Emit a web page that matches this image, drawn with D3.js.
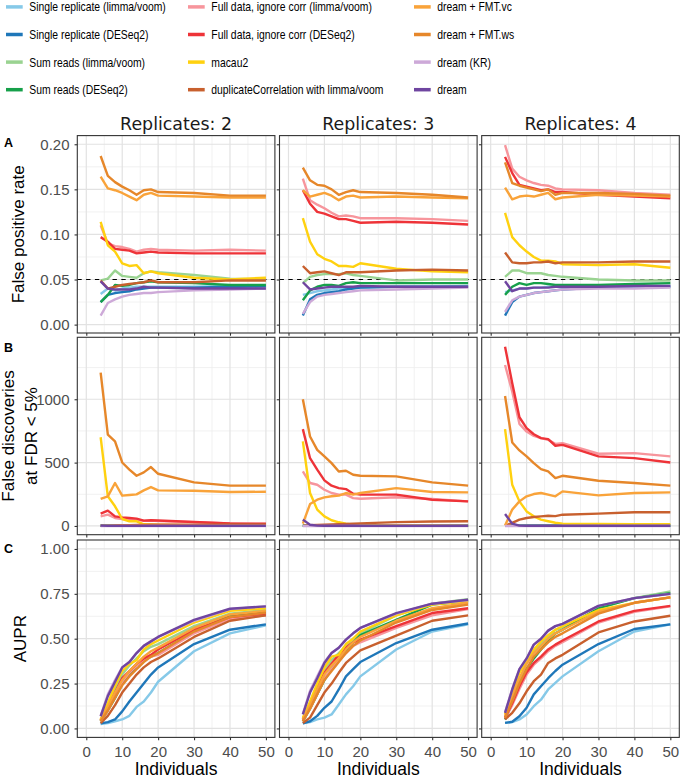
<!DOCTYPE html>
<html><head><meta charset="utf-8">
<script src="https://cdn.jsdelivr.net/npm/d3@7"></script>
<style>
html,body{margin:0;padding:0;background:#fff;}
svg{display:block;}
text{font-family:"Liberation Sans",Arial,Helvetica,sans-serif;}
</style></head>
<body><svg id="chart" width="680" height="779"></svg>
<script>
// ---------------- DATA ----------------
const individuals = [4,6,8,10,12,14,16,18,20,30,40,50];
const replicates = [2,3,4];
const methods = [
  "Single replicate (limma/voom)","Single replicate (DESeq2)",
  "Sum reads (limma/voom)","Sum reads (DESeq2)",
  "Full data, ignore corr (limma/voom)","Full data, ignore corr (DESeq2)",
  "macau2","duplicateCorrelation with limma/voom",
  "dream + FMT.vc","dream + FMT.ws","dream (KR)","dream"
];
const methodColors = ["#86C9E8","#1F77B9","#9AD391","#16A04A","#F7959C","#EE3338",
  "#FFD10F","#C8602E","#F9A33A","#E6872A","#CDA9D8","#6F45A0"];

// False positive rate, rows follow `methods`
const fpr_rep2 = [
  [0.034,0.040,0.038,0.040,0.041,0.042,0.042,0.042,0.042,0.042,0.043,0.043],
  [0.025,0.033,0.035,0.036,0.037,0.039,0.040,0.041,0.041,0.041,0.042,0.042],
  [0.049,0.051,0.060,0.054,0.053,0.052,0.057,0.059,0.058,0.055,0.051,0.050],
  [0.025,0.033,0.044,0.043,0.044,0.046,0.047,0.048,0.047,0.046,0.044,0.044],
  [0.110,0.090,0.087,0.086,0.084,0.081,0.083,0.084,0.083,0.082,0.083,0.082],
  [0.097,0.092,0.084,0.083,0.082,0.079,0.080,0.081,0.080,0.079,0.079,0.079],
  [0.114,0.088,0.081,0.068,0.065,0.066,0.057,0.059,0.057,0.052,0.050,0.052],
  [0.049,0.040,0.042,0.044,0.045,0.046,0.047,0.049,0.047,0.047,0.049,0.049],
  [0.164,0.151,0.149,0.146,0.142,0.138,0.144,0.146,0.143,0.142,0.141,0.141],
  [0.187,0.165,0.158,0.153,0.149,0.144,0.149,0.150,0.147,0.146,0.143,0.143],
  [0.010,0.024,0.028,0.031,0.033,0.034,0.035,0.035,0.036,0.038,0.039,0.040],
  [0.048,0.040,0.039,0.039,0.039,0.040,0.042,0.041,0.041,0.040,0.040,0.040]
];
const fpr_rep3 = [
  [0.033,0.035,0.037,0.038,0.039,0.040,0.040,0.041,0.041,0.042,0.042,0.043],
  [0.010,0.028,0.033,0.035,0.036,0.037,0.039,0.040,0.041,0.042,0.042,0.042],
  [0.046,0.053,0.055,0.056,0.056,0.056,0.057,0.055,0.054,0.049,0.050,0.050],
  [0.027,0.038,0.042,0.044,0.044,0.043,0.046,0.047,0.046,0.046,0.046,0.046],
  [0.162,0.138,0.133,0.129,0.124,0.120,0.121,0.120,0.118,0.118,0.117,0.115],
  [0.149,0.134,0.125,0.123,0.120,0.117,0.117,0.115,0.113,0.114,0.113,0.111],
  [0.118,0.092,0.078,0.073,0.070,0.065,0.065,0.064,0.068,0.062,0.059,0.058],
  [0.065,0.057,0.058,0.059,0.057,0.055,0.058,0.058,0.058,0.060,0.061,0.060],
  [0.149,0.142,0.144,0.146,0.143,0.138,0.142,0.143,0.141,0.142,0.141,0.140],
  [0.174,0.160,0.155,0.154,0.150,0.144,0.147,0.149,0.147,0.146,0.144,0.141],
  [0.012,0.025,0.031,0.033,0.034,0.035,0.036,0.037,0.038,0.039,0.040,0.041],
  [0.047,0.039,0.040,0.041,0.042,0.042,0.042,0.042,0.043,0.042,0.042,0.042]
];
const fpr_rep4 = [
  [0.036,0.038,0.040,0.040,0.041,0.041,0.042,0.042,0.042,0.042,0.043,0.043],
  [0.010,0.025,0.031,0.033,0.035,0.036,0.037,0.038,0.039,0.041,0.041,0.042],
  [0.053,0.060,0.060,0.057,0.057,0.057,0.055,0.054,0.053,0.050,0.049,0.049],
  [0.033,0.042,0.046,0.044,0.046,0.046,0.045,0.044,0.044,0.044,0.045,0.046],
  [0.199,0.173,0.164,0.160,0.157,0.155,0.154,0.151,0.150,0.149,0.146,0.144],
  [0.186,0.168,0.155,0.153,0.151,0.149,0.150,0.147,0.147,0.144,0.142,0.140],
  [0.124,0.097,0.088,0.081,0.075,0.071,0.071,0.070,0.067,0.066,0.067,0.063],
  [0.080,0.069,0.068,0.068,0.069,0.069,0.070,0.068,0.069,0.069,0.070,0.070],
  [0.152,0.139,0.142,0.143,0.142,0.144,0.146,0.139,0.141,0.144,0.143,0.142],
  [0.180,0.157,0.154,0.152,0.150,0.148,0.150,0.144,0.146,0.146,0.145,0.143],
  [0.014,0.027,0.031,0.033,0.035,0.036,0.037,0.038,0.039,0.040,0.040,0.041],
  [0.048,0.037,0.040,0.040,0.041,0.041,0.041,0.042,0.042,0.042,0.043,0.043]
];

// False discoveries at FDR < 5%
const fd_rep2 = [
  [1,1,1,1,1,1,1,1,1,1,1,1],
  [2,2,2,2,2,2,2,2,2,2,2,2],
  [1,1,1,1,1,1,1,1,1,1,1,1],
  [2,2,2,2,2,2,2,2,2,2,2,2],
  [76,89,63,55,50,46,40,42,38,30,20,15],
  [97,121,76,68,63,58,42,45,43,31,20,18],
  [700,234,155,55,37,37,13,12,10,5,4,4],
  [2,3,4,5,6,7,8,9,9,10,12,12],
  [213,234,339,239,244,249,281,307,281,278,268,270],
  [1210,720,667,501,444,396,423,465,412,344,318,318],
  [0,0,0,0,0,0,0,0,0,0,0,0],
  [3,1,1,1,1,1,1,1,1,1,1,1]
];
const fd_rep3 = [
  [1,1,1,1,1,1,1,1,1,1,1,1],
  [2,2,2,2,2,2,2,2,2,2,2,2],
  [1,1,1,1,1,1,1,1,1,1,1,1],
  [2,2,2,2,2,2,2,2,2,2,2,2],
  [430,339,325,286,260,247,247,220,215,226,213,194],
  [764,535,444,360,318,299,291,255,247,247,207,194],
  [667,260,129,76,45,29,18,10,8,5,4,3],
  [3,5,7,9,11,13,15,17,20,30,35,37],
  [18,173,207,226,234,239,260,247,260,299,268,265],
  [1000,706,601,549,496,430,436,404,396,391,344,318],
  [0,0,0,0,0,0,0,0,0,0,0,0],
  [50,10,3,2,2,2,2,2,2,2,2,2]
];
const fd_rep4 = [
  [1,1,1,1,1,1,1,1,1,1,1,1],
  [2,2,2,2,2,2,2,2,2,2,2,2],
  [1,1,1,1,1,1,1,1,1,1,1,1],
  [2,2,2,2,2,2,2,2,2,2,2,2],
  [1270,1060,806,745,711,693,680,648,654,570,575,549],
  [1415,1126,858,772,724,693,685,633,640,549,535,501],
  [764,325,194,115,76,50,37,25,18,15,14,13],
  [3,24,50,63,71,76,81,78,89,97,108,108],
  [3,129,194,234,252,260,247,234,273,241,260,265],
  [1026,659,596,549,496,449,430,378,396,357,339,318],
  [0,0,0,0,0,0,0,0,0,0,0,0],
  [94,18,3,2,2,2,2,2,2,2,2,2]
];

// AUPR
const aupr_rep2 = [
  [0.025,0.030,0.040,0.050,0.070,0.120,0.150,0.200,0.260,0.430,0.530,0.575],
  [0.028,0.035,0.050,0.095,0.150,0.200,0.250,0.300,0.340,0.470,0.550,0.580],
  [0.045,0.130,0.220,0.300,0.350,0.390,0.430,0.455,0.470,0.570,0.640,0.660],
  [0.040,0.100,0.170,0.250,0.300,0.350,0.380,0.400,0.420,0.540,0.630,0.650],
  [0.040,0.100,0.180,0.260,0.310,0.350,0.380,0.400,0.410,0.530,0.610,0.630],
  [0.045,0.120,0.200,0.280,0.320,0.360,0.390,0.410,0.440,0.550,0.620,0.640],
  [0.050,0.140,0.240,0.320,0.360,0.380,0.440,0.470,0.490,0.590,0.655,0.670],
  [0.030,0.070,0.130,0.200,0.250,0.300,0.340,0.370,0.390,0.510,0.600,0.630],
  [0.045,0.120,0.200,0.270,0.320,0.360,0.400,0.430,0.450,0.560,0.635,0.655],
  [0.040,0.100,0.170,0.240,0.290,0.330,0.370,0.400,0.420,0.540,0.620,0.645],
  [0.070,0.190,0.270,0.340,0.370,0.420,0.460,0.485,0.510,0.600,0.665,0.680],
  [0.068,0.180,0.260,0.340,0.370,0.420,0.460,0.485,0.510,0.605,0.667,0.680]
];
const aupr_rep3 = [
  [0.028,0.035,0.050,0.060,0.078,0.133,0.190,0.235,0.290,0.440,0.540,0.580],
  [0.028,0.040,0.070,0.115,0.150,0.217,0.290,0.330,0.370,0.476,0.550,0.585],
  [0.050,0.140,0.230,0.320,0.380,0.420,0.460,0.500,0.530,0.630,0.695,0.720],
  [0.040,0.110,0.190,0.270,0.330,0.380,0.430,0.480,0.520,0.605,0.690,0.710],
  [0.045,0.110,0.190,0.280,0.330,0.380,0.420,0.460,0.480,0.560,0.630,0.665],
  [0.050,0.130,0.220,0.310,0.360,0.410,0.450,0.480,0.495,0.570,0.643,0.670],
  [0.060,0.150,0.250,0.340,0.400,0.410,0.470,0.500,0.540,0.630,0.690,0.710],
  [0.030,0.060,0.130,0.200,0.250,0.310,0.365,0.400,0.435,0.517,0.600,0.630],
  [0.050,0.130,0.220,0.300,0.350,0.390,0.440,0.480,0.510,0.600,0.670,0.700],
  [0.040,0.110,0.190,0.270,0.320,0.370,0.420,0.460,0.490,0.590,0.660,0.690],
  [0.080,0.210,0.290,0.370,0.420,0.450,0.495,0.530,0.560,0.640,0.695,0.715],
  [0.078,0.200,0.280,0.365,0.420,0.450,0.495,0.530,0.560,0.643,0.695,0.717]
];
const aupr_rep4 = [
  [0.031,0.035,0.050,0.078,0.124,0.160,0.217,0.254,0.290,0.430,0.540,0.580],
  [0.031,0.037,0.068,0.115,0.190,0.235,0.280,0.320,0.355,0.470,0.554,0.580],
  [0.060,0.170,0.270,0.365,0.430,0.475,0.510,0.550,0.560,0.670,0.726,0.763],
  [0.050,0.140,0.235,0.330,0.390,0.440,0.490,0.530,0.550,0.670,0.726,0.754],
  [0.055,0.130,0.220,0.300,0.355,0.390,0.430,0.460,0.480,0.590,0.650,0.680],
  [0.060,0.140,0.235,0.313,0.365,0.400,0.440,0.467,0.490,0.596,0.655,0.683],
  [0.078,0.200,0.310,0.378,0.440,0.485,0.520,0.550,0.570,0.660,0.700,0.730],
  [0.050,0.087,0.140,0.207,0.263,0.300,0.365,0.390,0.410,0.535,0.596,0.628],
  [0.070,0.180,0.280,0.360,0.420,0.460,0.500,0.530,0.550,0.650,0.700,0.730],
  [0.060,0.150,0.250,0.330,0.400,0.440,0.480,0.510,0.530,0.640,0.700,0.730],
  [0.090,0.220,0.330,0.390,0.467,0.500,0.545,0.570,0.583,0.683,0.726,0.750],
  [0.087,0.217,0.330,0.390,0.467,0.500,0.545,0.570,0.583,0.683,0.726,0.750]
];

const xTicks = [0,10,20,30,40,50];
const fprTicks = [0,0.05,0.10,0.15,0.20];
const fdTicks = [0,500,1000];
const auprTicks = [0,0.25,0.50,0.75,1.00];

// ---------------- LAYOUT ----------------
const svg = d3.select("#chart");
const colX0 = [77.3, 279.5, 481.7], panelW = 197.6;
const rowY0 = [135.6, 337.3, 540.0], panelH = 197.4;

const rows = [
  {key:"A", data:[fpr_rep2,fpr_rep3,fpr_rep4], domain:[-0.0093,0.2096], ticks:fprTicks,
   minor:[0.025,0.075,0.125,0.175], fmt:d3.format(".2f"), hline:0.05},
  {key:"B", data:[fd_rep2,fd_rep3,fd_rep4], domain:[-69,1489], ticks:fdTicks,
   minor:[250,750,1250], fmt:d3.format("d")},
  {key:"C", data:[aupr_rep2,aupr_rep3,aupr_rep4], domain:[-0.05,1.05], ticks:auprTicks,
   minor:[0.125,0.375,0.625,0.875], fmt:d3.format(".2f")}
];
const xMinor = [5,15,25,35,45];

const x = d3.scaleLinear().domain([-2.5,52.5]).range([0,panelW]);

rows.forEach((row,ri)=>{
  const y = d3.scaleLinear().domain(row.domain).range([panelH,0]);
  replicates.forEach((rep,ci)=>{
    const g = svg.append("g").attr("transform",`translate(${colX0[ci]},${rowY0[ri]})`);
    g.append("rect").attr("width",panelW).attr("height",panelH).attr("fill","#fff");
    // minor grid
    g.selectAll(".mx").data(xMinor).join("line")
      .attr("x1",d=>x(d)).attr("x2",d=>x(d)).attr("y1",0).attr("y2",panelH)
      .attr("stroke","#EDEDED").attr("stroke-width",0.8);
    g.selectAll(".my").data(row.minor).join("line")
      .attr("y1",d=>y(d)).attr("y2",d=>y(d)).attr("x1",0).attr("x2",panelW)
      .attr("stroke","#EDEDED").attr("stroke-width",0.8);
    // major grid
    g.selectAll(".gx").data(xTicks).join("line")
      .attr("x1",d=>x(d)).attr("x2",d=>x(d)).attr("y1",0).attr("y2",panelH)
      .attr("stroke","#E2E2E2").attr("stroke-width",1.2);
    g.selectAll(".gy").data(row.ticks).join("line")
      .attr("y1",d=>y(d)).attr("y2",d=>y(d)).attr("x1",0).attr("x2",panelW)
      .attr("stroke","#E2E2E2").attr("stroke-width",1.2);
    if(row.hline!==undefined){
      g.append("line").attr("x1",0).attr("x2",panelW)
        .attr("y1",y(row.hline)).attr("y2",y(row.hline))
        .attr("stroke","#000").attr("stroke-width",1.1).attr("stroke-dasharray","4.4,4.4");
    }
    const line = d3.line().x((d,i)=>x(individuals[i])).y(d=>y(d));
    row.data[ci].forEach((vals,mi)=>{
      g.append("path").attr("d",line(vals)).attr("fill","none")
        .attr("stroke",methodColors[mi]).attr("stroke-width",2.4)
        .attr("stroke-linejoin","round").attr("stroke-linecap","butt");
    });
    g.append("rect").attr("width",panelW).attr("height",panelH)
      .attr("fill","none").attr("stroke","#333").attr("stroke-width",1.1);
    // y axis
    const ya = d3.axisLeft(y).tickValues(row.ticks).tickSize(2.75).tickPadding(5)
      .tickFormat(ci===0?row.fmt:()=> "");
    const yg = g.append("g").call(ya);
    yg.select(".domain").remove();
    yg.selectAll("line").attr("stroke","#333").attr("stroke-width",1.1);
    yg.selectAll("text").attr("fill","#4D4D4D").style("font-size","15px")
      .style("font-family","'Liberation Sans',Arial,sans-serif");
    // x axis
    const xa = d3.axisBottom(x).tickValues(xTicks).tickSize(2.75).tickPadding(6)
      .tickFormat(ri===2?d3.format("d"):()=>"");
    const xg = g.append("g").attr("transform",`translate(0,${panelH})`).call(xa);
    xg.select(".domain").remove();
    xg.selectAll("line").attr("stroke","#333").attr("stroke-width",1.1);
    xg.selectAll("text").attr("fill","#4D4D4D").style("font-size","15px")
      .style("font-family","'Liberation Sans',Arial,sans-serif");
    // strip
    if(ri===0){
      svg.append("text").attr("x",colX0[ci]+panelW/2).attr("y",130)
        .attr("text-anchor","middle").style("font-family","'DejaVu Sans',sans-serif")
        .style("font-size","17.4px").attr("fill","#1A1A1A").text("Replicates: "+rep);
    }
    if(ri===2){
      svg.append("text").attr("x",colX0[ci]+panelW/2).attr("y",775)
        .attr("text-anchor","middle").style("font-size","17.5px").attr("fill","#000")
        .text("Individuals");
    }
  });
  // panel tag
  svg.append("text").attr("x",4).attr("y",[146.7,352,552.5][ri])
    .style("font-size","12.5px").style("font-weight","bold").attr("fill","#000").text(row.key);
});

// y titles
const yTitle = (lines, cx, cy) => {
  const t = svg.append("text").attr("transform",`translate(${cx},${cy}) rotate(-90)`)
    .attr("text-anchor","middle").style("font-size","17px").attr("fill","#000");
  lines.forEach((s,i)=>t.append("tspan").attr("x",0).attr("dy",i===0?0:"1.37em").text(s));
};
yTitle(["False positive rate"], 23.5, rowY0[0]+panelH/2);
yTitle(["False discoveries","at FDR < 5%"], 14, rowY0[1]+panelH/2);
yTitle(["AUPR"], 26, rowY0[2]+panelH/2);

// legend
const legCols = [6, 188, 414];
methods.forEach((m,i)=>{
  const c = Math.floor(i/4), r = i%4;
  const cy = 6.9 + r*27.6;
  svg.append("line").attr("x1",legCols[c]).attr("x2",legCols[c]+16.7)
    .attr("y1",cy).attr("y2",cy).attr("stroke",methodColors[i]).attr("stroke-width",3.5);
  svg.append("text").attr("transform",`translate(${legCols[c]+23.3},${cy+4.5}) scale(0.83,1)`)
    .style("font-size","12.5px").attr("fill","#000").text(m);
});
</script></body></html>
